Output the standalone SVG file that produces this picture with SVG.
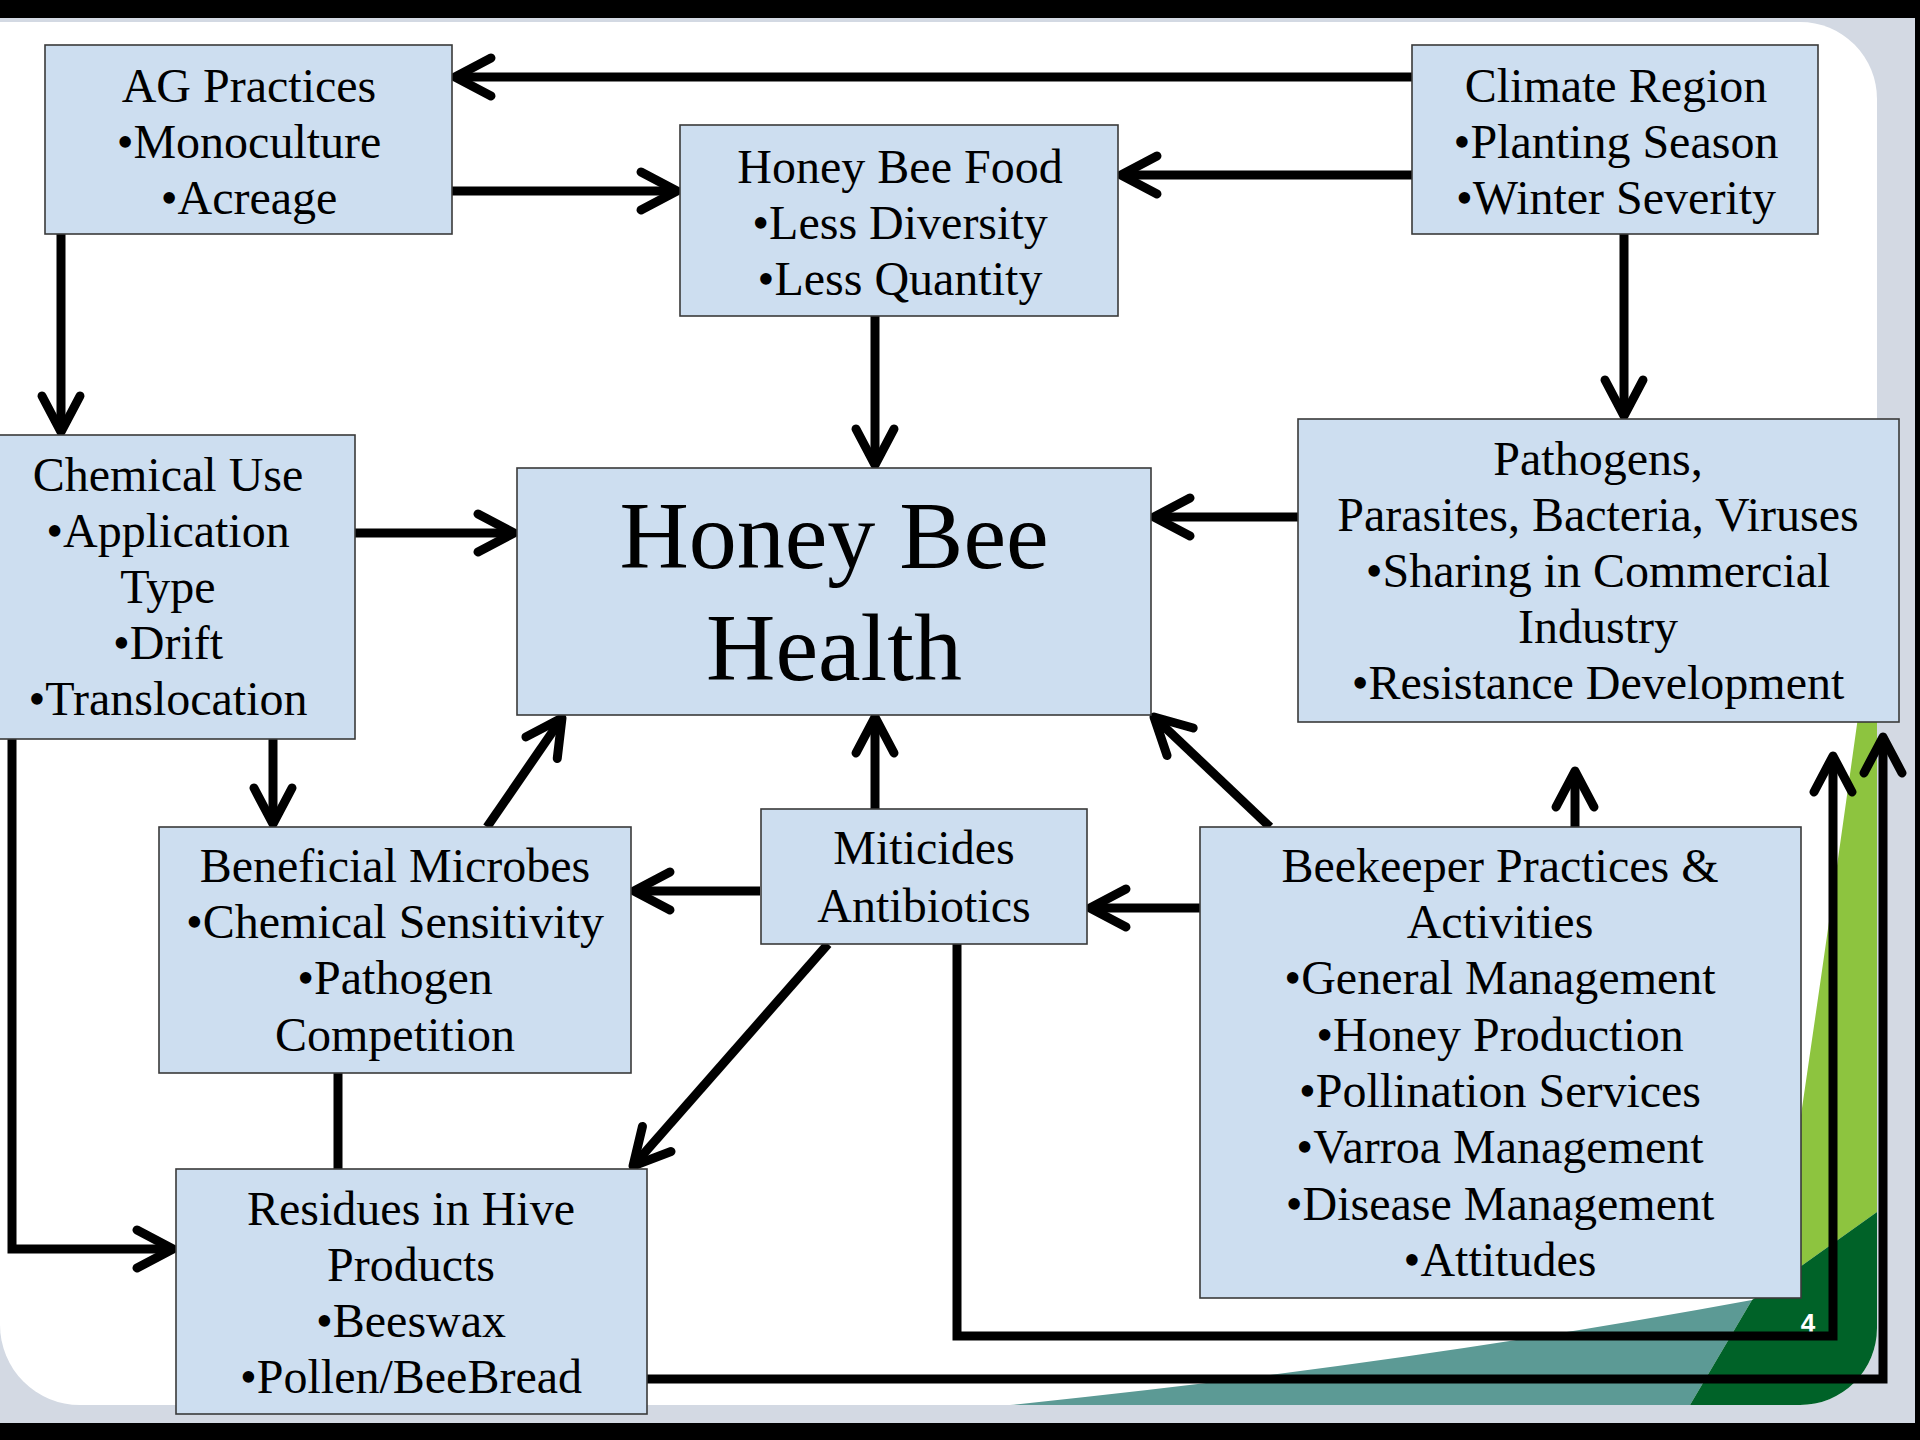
<svg xmlns="http://www.w3.org/2000/svg" width="1920" height="1440" viewBox="0 0 1920 1440">
<defs>
<style>
.box{fill:#cddef0;stroke:#3a3a3a;stroke-width:1.6}
.t{font-family:"Liberation Serif","Times New Roman",serif;font-size:48px;fill:#000;text-anchor:middle}
.big{font-size:96px}
.c{fill:none;stroke:#000;stroke-width:9;stroke-linejoin:miter}
.a{marker-end:url(#ah)}
</style>
<marker id="ah" markerUnits="userSpaceOnUse" markerWidth="60" markerHeight="60" viewBox="-48 -30 60 60" refX="0" refY="0" orient="auto" overflow="visible">
<path d="M -36,-19 L 0,0 L -36,19" fill="none" stroke="#000" stroke-width="9" stroke-linecap="round" stroke-linejoin="round"/>
</marker>
</defs>
<g id="background">
<rect x="0" y="0" width="1920" height="1440" fill="#d3d9e3"/>
<path d="M 0,22 H 1800 A 77,77 0 0 1 1877,99 V 1328 A 77,77 0 0 1 1800,1405 H 80 A 80,80 0 0 1 0,1325 Z" fill="#ffffff"/>
<path d="M 1866,660 L 1877,650 V 1212 L 1776,1284 Q 1820,990 1866,660 Z" fill="#8dc43f"/>
<path d="M 1010,1405 Q 1400,1365 1752,1300 L 1690,1405 Z" fill="#5c9a95"/>
<path d="M 1690,1405 L 1752,1300 L 1776,1284 L 1877,1212 V 1328 A 77,77 0 0 1 1800,1405 Z" fill="#006228"/>
<rect x="0" y="0" width="1920" height="18" fill="#000"/>
<rect x="0" y="1423" width="1920" height="17" fill="#000"/>
<rect x="1915" y="0" width="5" height="1440" fill="#000"/>
<text x="1808" y="1332" font-family="Liberation Sans, Arial, sans-serif" font-size="26" font-weight="bold" fill="#ffffff" text-anchor="middle">4</text>
</g>
<g id="connectors">
<line class="c a" x1="1412" y1="77" x2="455" y2="77"/>
<line class="c a" x1="452" y1="191" x2="677" y2="191"/>
<line class="c a" x1="1412" y1="175" x2="1121" y2="175"/>
<line class="c a" x1="61" y1="234" x2="61" y2="432"/>
<line class="c a" x1="875" y1="316" x2="875" y2="465"/>
<line class="c a" x1="1624" y1="234" x2="1624" y2="416"/>
<line class="c a" x1="355" y1="533" x2="514" y2="533"/>
<line class="c a" x1="1298" y1="517" x2="1154" y2="517"/>
<line class="c a" x1="273" y1="739" x2="273" y2="824"/>
<line class="c a" x1="487" y1="827" x2="562" y2="718"/>
<line class="c a" x1="875" y1="809" x2="875" y2="717"/>
<line class="c a" x1="1270" y1="827" x2="1154" y2="717"/>
<line class="c a" x1="1575" y1="827" x2="1575" y2="771"/>
<line class="c a" x1="760" y1="891" x2="634" y2="891"/>
<line class="c a" x1="1200" y1="908" x2="1090" y2="908"/>
<line class="c a" x1="828" y1="944" x2="633" y2="1166"/>
<line class="c" x1="338" y1="1073" x2="338" y2="1169"/>
<path class="c a" d="M 12,739 V 1249 H 173"/>
<path class="c a" d="M 957,944 V 1336 H 1833 V 756"/>
<path class="c a" d="M 647,1379 H 1883 V 737"/>
</g>
<g id="ag-practices">
<rect class="box" x="45" y="45" width="407" height="189"/>
<text class="t" x="249" y="102">AG Practices</text>
<text class="t" x="249" y="158">•Monoculture</text>
<text class="t" x="249" y="214">•Acreage</text>
</g>
<g id="honey-bee-food">
<rect class="box" x="680" y="125" width="438" height="191"/>
<text class="t" x="900" y="183">Honey Bee Food</text>
<text class="t" x="900" y="239">•Less Diversity</text>
<text class="t" x="900" y="295">•Less Quantity</text>
</g>
<g id="climate-region">
<rect class="box" x="1412" y="45" width="406" height="189"/>
<text class="t" x="1616" y="102">Climate Region</text>
<text class="t" x="1616" y="158">•Planting Season</text>
<text class="t" x="1616" y="214">•Winter Severity</text>
</g>
<g id="chemical-use">
<rect class="box" x="-20" y="435" width="375" height="304"/>
<text class="t" x="168" y="491">Chemical Use</text>
<text class="t" x="168" y="547">•Application</text>
<text class="t" x="168" y="603">Type</text>
<text class="t" x="168" y="659">•Drift</text>
<text class="t" x="168" y="715">•Translocation</text>
</g>
<g id="honey-bee-health">
<rect class="box" x="517" y="468" width="634" height="247"/>
<text class="t big" x="834" y="568">Honey Bee</text>
<text class="t big" x="834" y="680">Health</text>
</g>
<g id="pathogens">
<rect class="box" x="1298" y="419" width="601" height="303"/>
<text class="t" x="1598" y="475">Pathogens,</text>
<text class="t" x="1598" y="531">Parasites, Bacteria, Viruses</text>
<text class="t" x="1598" y="587">•Sharing in Commercial</text>
<text class="t" x="1598" y="643">Industry</text>
<text class="t" x="1598" y="699">•Resistance Development</text>
</g>
<g id="beneficial-microbes">
<rect class="box" x="159" y="827" width="472" height="246"/>
<text class="t" x="395" y="882">Beneficial Microbes</text>
<text class="t" x="395" y="938">•Chemical Sensitivity</text>
<text class="t" x="395" y="994">•Pathogen</text>
<text class="t" x="395" y="1051">Competition</text>
</g>
<g id="miticides-antibiotics">
<rect class="box" x="761" y="809" width="326" height="135"/>
<text class="t" x="924" y="864">Miticides</text>
<text class="t" x="924" y="922">Antibiotics</text>
</g>
<g id="beekeeper-practices">
<rect class="box" x="1200" y="827" width="601" height="471"/>
<text class="t" x="1500" y="882">Beekeeper Practices &amp;</text>
<text class="t" x="1500" y="938">Activities</text>
<text class="t" x="1500" y="994">•General Management</text>
<text class="t" x="1500" y="1051">•Honey Production</text>
<text class="t" x="1500" y="1107">•Pollination Services</text>
<text class="t" x="1500" y="1163">•Varroa Management</text>
<text class="t" x="1500" y="1220">•Disease Management</text>
<text class="t" x="1500" y="1276">•Attitudes</text>
</g>
<g id="residues-in-hive">
<rect class="box" x="176" y="1169" width="471" height="245"/>
<text class="t" x="411" y="1225">Residues in Hive</text>
<text class="t" x="411" y="1281">Products</text>
<text class="t" x="411" y="1337">•Beeswax</text>
<text class="t" x="411" y="1393">•Pollen/BeeBread</text>
</g>
</svg>
